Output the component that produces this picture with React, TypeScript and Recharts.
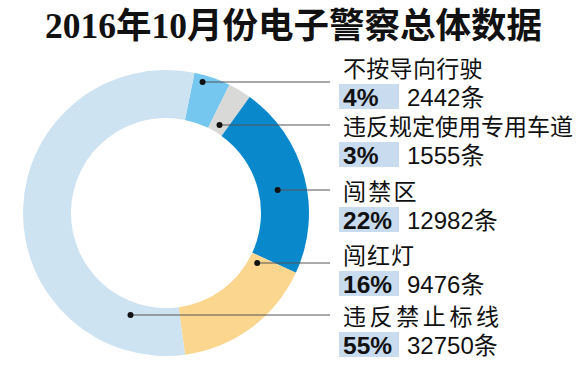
import { PieChart, Pie, Cell } from "recharts";

const categories = ["不按导向行驶", "违反规定使用专用车道", "闯禁区", "闯红灯", "违反禁止标线"];
const counts = [2442, 1555, 12982, 9476, 32750];
const percents = ["4%", "3%", "22%", "16%", "55%"];

const colors = ["#76c7ef", "#d9d9d7", "#0a88cc", "#fad68f", "#cde3f1"];

const CX = 166;
const CY = 213;

// label layout: leader line y, name baseline, dot radius in the ring, name spacing
const lineY = [82, 125, 190, 263, 315];
const nameY = [77, 135, 200, 264, 325];
const dotR = [136, 103, 114, 104, 108];
const dotSide = [1, 1, 1, 1, -1];
const nameSpacing = [0.3, 0, 2.3, 1, 3.6];

const data = categories.map((name, i) => ({ name, value: counts[i] }));

const CJK = '"Noto Sans CJK SC", sans-serif';
const LATIN = '"Liberation Sans", "Noto Sans CJK SC", sans-serif';

// eslint-disable-next-line @typescript-eslint/no-explicit-any
function renderLabel(props: any) {
  const { index } = props;
  const y = lineY[index];
  const dy = y - CY;
  const r = dotR[index];
  const dx = Math.sqrt(Math.max(r * r - dy * dy, 0)) * dotSide[index];
  const dotX = CX + dx;
  const ny = nameY[index];
  const py = ny + 29;
  return (
    <g key={`lbl-${index}`}>
      <line x1={dotX} y1={y} x2={330} y2={y} stroke="#555" strokeWidth={1.2} />
      <circle cx={dotX} cy={y} r={3} fill="#111" />
      <text x={343} y={ny} fontSize={23} fill="#111" fontFamily={CJK} letterSpacing={nameSpacing[index]}>
        {categories[index]}
      </text>
      <rect x={339} y={py - 22} width={60} height={25} fill="#c9dbef" />
      <text x={343} y={py} fontSize={24.5} fontWeight={700} fill="#111" fontFamily={LATIN}>
        {percents[index]}
      </text>
      <text x={407} y={py} fontSize={24} fill="#111" fontFamily={LATIN}>
        {counts[index]}条
      </text>
    </g>
  );
}

export default function App() {
  return (
    <div style={{ position: "absolute", left: 0, top: 0, width: 587, height: 371, background: "#fff" }}>
      <div
        style={{
          position: "absolute",
          left: 0,
          top: 4,
          width: 587,
          textAlign: "center",
          fontSize: 35.5,
          fontWeight: 700,
          lineHeight: "44px",
          fontFamily: '"Liberation Serif", "Noto Sans CJK SC", serif',
          color: "#111",
        }}
      >
        2016年10月份电子警察总体数据
      </div>
      <PieChart
        width={587}
        height={371}
        margin={{ top: 0, right: 0, bottom: 0, left: 0 }}
        style={{ position: "absolute", left: 0, top: 0 }}
      >
        <Pie
          data={data}
          dataKey="value"
          nameKey="name"
          cx={CX}
          cy={CY}
          innerRadius={95}
          outerRadius={143}
          startAngle={78.5}
          endAngle={-281.5}
          stroke="none"
          label={renderLabel}
          labelLine={false}
          isAnimationActive={false}
        >
          {data.map((d, i) => (
            <Cell key={d.name} fill={colors[i]} />
          ))}
        </Pie>
      </PieChart>
    </div>
  );
}
